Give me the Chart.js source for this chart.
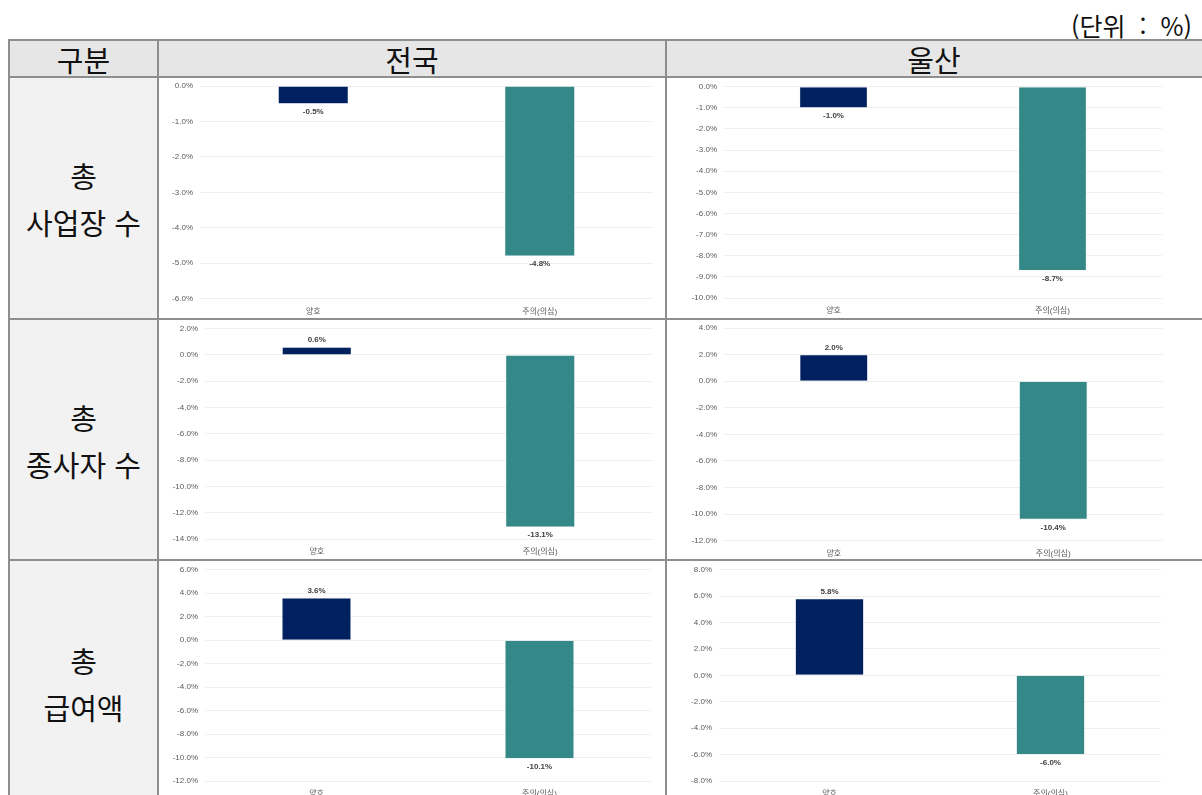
<!DOCTYPE html>
<html lang="ko">
<head>
<meta charset="utf-8">
<script src="https://cdn.jsdelivr.net/npm/chart.js@4.4.1/dist/chart.umd.min.js"></script>
<style>
  html, body { margin: 0; padding: 0; background: #fff; overflow: hidden; }
  #page { position: relative; width: 1202px; height: 795px; overflow: hidden;
    font-family: "Noto Sans CJK KR", "Noto Sans", sans-serif; color: #111; }
  .abs { position: absolute; }
  .bg-head { background: #e6e6e6; }
  .bg-side { background: #f2f2f2; }
  .head { display: flex; align-items: center; justify-content: center; font-size: 29px; font-weight: 400; }
  .side { display: flex; align-items: center; justify-content: center; text-align: center;
    font-size: 29px; line-height: 47px; white-space: pre; }
  .hline { position: absolute; height: 2px; background: #8e8e8e; z-index: 5; }
  .vline { position: absolute; width: 2px; background: #8e8e8e; z-index: 5; }
  .unit { position: absolute; right: 10px; top: 7px; font-size: 25px; white-space: pre; }
  canvas { position: absolute; }
</style>
</head>
<body>
<div id="page">
  <div class="unit">(단위  :  %)</div>

  <div class="abs bg-head" style="left:9px;top:41px;width:1193px;height:36px"></div>
  <div class="abs bg-side" style="left:9px;top:77px;width:149px;height:718px"></div>

  <div class="abs head" id="head0" style="left:9px;top:41px;width:149px;height:36px"></div>
  <div class="abs head" id="head1" style="left:158px;top:41px;width:508px;height:36px"></div>
  <div class="abs head" id="head2" style="left:666px;top:41px;width:536px;height:36px"></div>

  <div class="abs side" id="side0" style="left:9px;top:77px;width:149px;height:243px"></div>
  <div class="abs side" id="side1" style="left:9px;top:320px;width:149px;height:241px"></div>
  <div class="abs side" id="side2" style="left:9px;top:561px;width:149px;height:246px"></div>

  <canvas id="c1" width="506" height="242" style="left:159px;top:77px;width:506px;height:242px"></canvas>
  <canvas id="c2" width="535" height="242" style="left:667px;top:77px;width:535px;height:242px"></canvas>
  <canvas id="c3" width="506" height="240" style="left:159px;top:320px;width:506px;height:240px"></canvas>
  <canvas id="c4" width="535" height="240" style="left:667px;top:320px;width:535px;height:240px"></canvas>
  <canvas id="c5" width="506" height="240" style="left:159px;top:561px;width:506px;height:240px"></canvas>
  <canvas id="c6" width="535" height="240" style="left:667px;top:561px;width:535px;height:240px"></canvas>

  <div class="hline" style="left:8px;top:39px;width:1194px"></div>
  <div class="hline" style="left:8px;top:76px;width:1194px"></div>
  <div class="hline" style="left:8px;top:318px;width:1194px"></div>
  <div class="hline" style="left:8px;top:559px;width:1194px"></div>
  <div class="vline" style="left:8px;top:39px;height:756px"></div>
  <div class="vline" style="left:157px;top:39px;height:756px"></div>
  <div class="vline" style="left:665px;top:39px;height:756px"></div>
</div>

<script>
const headerLabels = ['구분', '전국', '울산'];
const rowLabels = ['총\n사업장 수', '총\n종사자 수', '총\n급여액'];
const categories = ['양호', '주의(의심)'];

// 증감률 (%)
const workplaceNational = [-0.5, -4.8];
const workplaceUlsan = [-1.0, -8.7];
const employeeNational = [0.6, -13.1];
const employeeUlsan = [2.0, -10.4];
const payrollNational = [3.6, -10.1];
const payrollUlsan = [5.8, -6.0];

// y축 [min, max, step]
const workplaceNationalAxis = [-6, 0, 1];
const workplaceUlsanAxis = [-10, 0, 1];
const employeeNationalAxis = [-14, 2, 2];
const employeeUlsanAxis = [-12, 4, 2];
const payrollNationalAxis = [-12, 6, 2];
const payrollUlsanAxis = [-8, 8, 2];

const barColors = ['#002060', '#348888'];
const fontFamily = '"Liberation Sans", "Noto Sans CJK KR", sans-serif';

headerLabels.forEach((t, i) => { document.getElementById('head' + i).textContent = t; });
rowLabels.forEach((t, i) => { document.getElementById('side' + i).textContent = t; });

// 막대 값 표시
const valueLabels = {
  id: 'valueLabels',
  afterDatasetsDraw(chart) {
    const ctx = chart.ctx;
    const meta = chart.getDatasetMeta(0);
    const data = chart.data.datasets[0].data;
    ctx.save();
    ctx.font = 'bold 8px ' + fontFamily;
    ctx.fillStyle = '#404040';
    ctx.textAlign = 'center';
    ctx.textBaseline = 'middle';
    meta.data.forEach((bar, i) => {
      const v = data[i];
      const y = v >= 0 ? bar.y - 7 : bar.y + 8;
      ctx.fillText(v.toFixed(1) + '%', bar.x, y);
    });
    ctx.restore();
  }
};

// cell: 캔버스 위치, plot: 그림 영역 (페이지 좌표)
function drawChart(id, values, axis, cell, plot) {
  const [yMin, yMax, yStep] = axis;
  const canvasBottom = cell.top + cell.height;
  return new Chart(document.getElementById(id), {
    type: 'bar',
    data: {
      labels: categories,
      datasets: [{
        data: values,
        backgroundColor: barColors,
        borderColor: '#e8eef0',
        borderWidth: 0.6,
        categoryPercentage: 1,
        barPercentage: 0.31
      }]
    },
    options: {
      responsive: false,
      animation: false,
      events: [],
      layout: {
        padding: {
          top: plot.top - cell.top,
          right: cell.left + cell.width - plot.right,
          left: 0,
          bottom: 0
        }
      },
      plugins: {
        legend: { display: false },
        tooltip: { enabled: false }
      },
      scales: {
        x: {
          grid: { display: false, drawTicks: false },
          border: { display: false },
          ticks: {
            padding: 8,
            color: '#595959',
            font: { family: fontFamily, size: 8 }
          },
          afterFit(scale) {
            scale.height = canvasBottom - plot.bottom;
            scale.paddingLeft = 0;
            scale.paddingRight = 0;
          }
        },
        y: {
          min: yMin,
          max: yMax,
          grid: { color: '#efefef', lineWidth: 1, drawTicks: false },
          border: { display: false },
          ticks: {
            stepSize: yStep,
            padding: 7,
            color: '#595959',
            font: { family: fontFamily, size: 8 },
            callback: v => v.toFixed(1) + '%'
          },
          afterFit(scale) {
            scale.width = plot.left - cell.left;
            scale.paddingTop = 0;
            scale.paddingBottom = 0;
          }
        }
      }
    },
    plugins: [valueLabels]
  });
}

drawChart('c1', workplaceNational, workplaceNationalAxis,
  { left: 159, top: 77, width: 506, height: 242 },
  { left: 200, right: 653, top: 86, bottom: 298.7 });
drawChart('c2', workplaceUlsan, workplaceUlsanAxis,
  { left: 667, top: 77, width: 535, height: 242 },
  { left: 724, right: 1162, top: 86.7, bottom: 298 });
drawChart('c3', employeeNational, employeeNationalAxis,
  { left: 159, top: 320, width: 506, height: 240 },
  { left: 205, right: 652, top: 328.7, bottom: 539 });
drawChart('c4', employeeUlsan, employeeUlsanAxis,
  { left: 667, top: 320, width: 535, height: 240 },
  { left: 724, right: 1163, top: 328, bottom: 540.7 });
drawChart('c5', payrollNational, payrollNationalAxis,
  { left: 159, top: 561, width: 506, height: 240 },
  { left: 205, right: 651, top: 569.7, bottom: 781 });
drawChart('c6', payrollUlsan, payrollUlsanAxis,
  { left: 667, top: 561, width: 535, height: 240 },
  { left: 719, right: 1161, top: 569.7, bottom: 781 });
</script>
</body>
</html>
